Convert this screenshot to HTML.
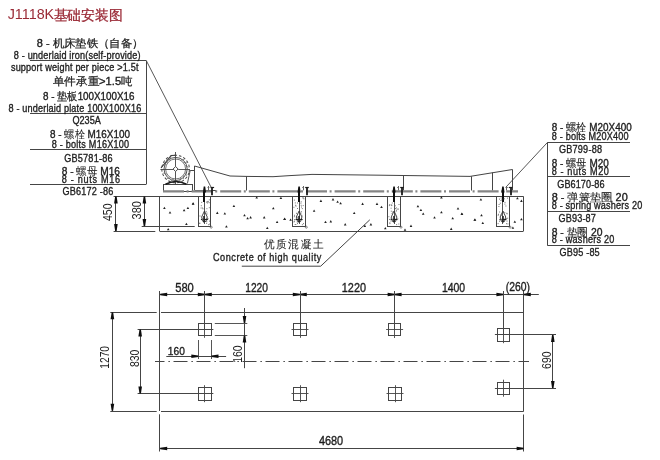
<!DOCTYPE html>
<html><head><meta charset="utf-8"><style>
html,body{margin:0;padding:0;background:#fff;width:660px;height:460px;overflow:hidden}
svg{display:block;font-family:"Liberation Sans",sans-serif}
</style></head><body>
<svg width="660" height="460" viewBox="0 0 660 460">
<defs><filter id="soft" x="0" y="0" width="660" height="460" filterUnits="userSpaceOnUse"><feGaussianBlur stdDeviation="0.32"/></filter></defs>
<rect width="660" height="460" fill="#fff"/>
<g filter="url(#soft)">
<rect width="660" height="460" fill="#fff"/>
<text x="7.7" y="18.8" font-size="14.1" fill="#9a2a36" textLength="46.5" lengthAdjust="spacingAndGlyphs">J1118K</text>
<text x="53.5" y="19.8" font-size="14.2" fill="#9a2a36" stroke="#9a2a36" stroke-width="0.3" textLength="69" lengthAdjust="spacingAndGlyphs">基础安装图</text>
<line x1="30" y1="60.5" x2="146.4" y2="60.5" stroke="#444" stroke-width="1" stroke-linecap="butt"/>
<line x1="30" y1="113.5" x2="146.4" y2="113.5" stroke="#444" stroke-width="1" stroke-linecap="butt"/>
<line x1="30" y1="149.5" x2="146.4" y2="149.5" stroke="#444" stroke-width="1" stroke-linecap="butt"/>
<line x1="30" y1="184.5" x2="146.4" y2="184.5" stroke="#444" stroke-width="1" stroke-linecap="butt"/>
<line x1="146.5" y1="60.8" x2="146.5" y2="184.1" stroke="#444" stroke-width="1" stroke-linecap="butt"/>
<line x1="146.4" y1="60.8" x2="211" y2="187" stroke="#444" stroke-width="0.9" stroke-linecap="butt"/>
<text x="36.8" y="47.3" font-size="10.6" fill="#1e1e1e" stroke="#1e1e1e" stroke-width="0.35" textLength="106.7" lengthAdjust="spacingAndGlyphs"><tspan>8 - </tspan><tspan font-size="11.2" stroke="#1e1e1e" stroke-width="0.25">机床垫铁（自备）</tspan></text>
<text x="0" y="0" font-size="10.6" fill="#1e1e1e" stroke="#1e1e1e" stroke-width="0.35" textLength="147.4" lengthAdjust="spacing" transform="translate(13.8 59.3) scale(0.86 1)"><tspan>8 - underlaid iron(self-provide)</tspan></text>
<text x="0" y="0" font-size="10.6" fill="#1e1e1e" stroke="#1e1e1e" stroke-width="0.35" textLength="148.3" lengthAdjust="spacing" transform="translate(10.9 71.4) scale(0.86 1)"><tspan>support weight per piece &gt;1.5t</tspan></text>
<text x="52.8" y="85.0" font-size="10.6" fill="#1e1e1e" stroke="#1e1e1e" stroke-width="0.35" textLength="79.9" lengthAdjust="spacingAndGlyphs"><tspan font-size="11.2" stroke="#1e1e1e" stroke-width="0.25">单件承重</tspan><tspan>&gt;1.5</tspan><tspan font-size="11.2" stroke="#1e1e1e" stroke-width="0.25">吨</tspan></text>
<text x="43" y="100.2" font-size="10.6" fill="#1e1e1e" stroke="#1e1e1e" stroke-width="0.35" textLength="91.5" lengthAdjust="spacingAndGlyphs"><tspan>8 - </tspan><tspan font-size="11.2" stroke="#1e1e1e" stroke-width="0.25">垫板</tspan><tspan>100X100X16</tspan></text>
<text x="0" y="0" font-size="10.6" fill="#1e1e1e" stroke="#1e1e1e" stroke-width="0.35" textLength="154.4" lengthAdjust="spacing" transform="translate(8.5 112.0) scale(0.86 1)"><tspan>8 - underlaid plate 100X100X16</tspan></text>
<text x="0" y="0" font-size="10.6" fill="#1e1e1e" stroke="#1e1e1e" stroke-width="0.35" textLength="32.9" lengthAdjust="spacing" transform="translate(72.5 124.2) scale(0.86 1)"><tspan>Q235A</tspan></text>
<text x="50" y="137.9" font-size="10.6" fill="#1e1e1e" stroke="#1e1e1e" stroke-width="0.35" textLength="80.0" lengthAdjust="spacingAndGlyphs"><tspan>8 - </tspan><tspan font-size="11.2" stroke="#1e1e1e" stroke-width="0.05">螺栓</tspan><tspan> M16X100</tspan></text>
<text x="0" y="0" font-size="10.6" fill="#1e1e1e" stroke="#1e1e1e" stroke-width="0.35" textLength="90.1" lengthAdjust="spacing" transform="translate(51.7 147.5) scale(0.86 1)"><tspan>8 - bolts M16X100</tspan></text>
<text x="0" y="0" font-size="10.6" fill="#1e1e1e" stroke="#1e1e1e" stroke-width="0.35" textLength="56.2" lengthAdjust="spacing" transform="translate(64.2 161.6) scale(0.86 1)"><tspan>GB5781-86</tspan></text>
<text x="61.7" y="174.6" font-size="10.6" fill="#1e1e1e" stroke="#1e1e1e" stroke-width="0.35" textLength="58.3" lengthAdjust="spacingAndGlyphs"><tspan>8 - </tspan><tspan font-size="11.2" stroke="#1e1e1e" stroke-width="0.05">螺母</tspan><tspan> M16</tspan></text>
<text x="0" y="0" font-size="10.6" fill="#1e1e1e" stroke="#1e1e1e" stroke-width="0.35" textLength="67.8" lengthAdjust="spacing" transform="translate(61.7 182.5) scale(0.86 1)"><tspan>8 - nuts M16</tspan></text>
<text x="0" y="0" font-size="10.6" fill="#1e1e1e" stroke="#1e1e1e" stroke-width="0.35" textLength="59.1" lengthAdjust="spacing" transform="translate(62.5 195.0) scale(0.86 1)"><tspan>GB6172 -86</tspan></text>
<line x1="547.2" y1="142.5" x2="630" y2="142.5" stroke="#444" stroke-width="1" stroke-linecap="butt"/>
<line x1="547.2" y1="176.5" x2="630" y2="176.5" stroke="#444" stroke-width="1" stroke-linecap="butt"/>
<line x1="547.2" y1="211.5" x2="630" y2="211.5" stroke="#444" stroke-width="1" stroke-linecap="butt"/>
<line x1="547.2" y1="245.5" x2="630" y2="245.5" stroke="#444" stroke-width="1" stroke-linecap="butt"/>
<line x1="547.5" y1="142.6" x2="547.5" y2="245" stroke="#444" stroke-width="1" stroke-linecap="butt"/>
<line x1="547.3" y1="142.6" x2="505.6" y2="187.5" stroke="#444" stroke-width="0.9" stroke-linecap="butt"/>
<text x="551.8" y="130.8" font-size="10.6" fill="#1e1e1e" stroke="#1e1e1e" stroke-width="0.35" textLength="79.9" lengthAdjust="spacingAndGlyphs"><tspan>8 - </tspan><tspan font-size="11.2" stroke="#1e1e1e" stroke-width="0.1">螺栓</tspan><tspan> M20X400</tspan></text>
<text x="0" y="0" font-size="10.6" fill="#1e1e1e" stroke="#1e1e1e" stroke-width="0.35" textLength="89.3" lengthAdjust="spacing" transform="translate(551.8 140.0) scale(0.86 1)"><tspan>8 - bolts M20X400</tspan></text>
<text x="0" y="0" font-size="10.6" fill="#1e1e1e" stroke="#1e1e1e" stroke-width="0.35" textLength="50.2" lengthAdjust="spacing" transform="translate(558.9 152.8) scale(0.86 1)"><tspan>GB799-88</tspan></text>
<text x="551.8" y="167.2" font-size="10.6" fill="#1e1e1e" stroke="#1e1e1e" stroke-width="0.35" textLength="57.1" lengthAdjust="spacingAndGlyphs"><tspan>8 - </tspan><tspan font-size="11.2" stroke="#1e1e1e" stroke-width="0.1">螺母</tspan><tspan> M20</tspan></text>
<text x="0" y="0" font-size="10.6" fill="#1e1e1e" stroke="#1e1e1e" stroke-width="0.35" textLength="66.4" lengthAdjust="spacing" transform="translate(551.8 174.8) scale(0.86 1)"><tspan>8 - nuts M20</tspan></text>
<text x="0" y="0" font-size="10.6" fill="#1e1e1e" stroke="#1e1e1e" stroke-width="0.35" textLength="55.1" lengthAdjust="spacing" transform="translate(557.2 187.5) scale(0.86 1)"><tspan>GB6170-86</tspan></text>
<text x="551.7" y="201.2" font-size="10.6" fill="#1e1e1e" stroke="#1e1e1e" stroke-width="0.35" textLength="76.0" lengthAdjust="spacingAndGlyphs"><tspan>8 - </tspan><tspan font-size="11.2" stroke="#1e1e1e" stroke-width="0.1">弹簧垫圈</tspan><tspan> 20</tspan></text>
<text x="0" y="0" font-size="10.6" fill="#1e1e1e" stroke="#1e1e1e" stroke-width="0.35" textLength="105.3" lengthAdjust="spacing" transform="translate(551.7 209.1) scale(0.86 1)"><tspan>8 - spring washers 20</tspan></text>
<text x="0" y="0" font-size="10.6" fill="#1e1e1e" stroke="#1e1e1e" stroke-width="0.35" textLength="43.3" lengthAdjust="spacing" transform="translate(558.6 221.8) scale(0.86 1)"><tspan>GB93-87</tspan></text>
<text x="551.7" y="235.5" font-size="10.6" fill="#1e1e1e" stroke="#1e1e1e" stroke-width="0.35" textLength="50.9" lengthAdjust="spacingAndGlyphs"><tspan>8 - </tspan><tspan font-size="11.2" stroke="#1e1e1e" stroke-width="0.1">垫圈</tspan><tspan> 20</tspan></text>
<text x="0" y="0" font-size="10.6" fill="#1e1e1e" stroke="#1e1e1e" stroke-width="0.35" textLength="72.9" lengthAdjust="spacing" transform="translate(551.7 243.4) scale(0.86 1)"><tspan>8 - washers 20</tspan></text>
<text x="0" y="0" font-size="10.6" fill="#1e1e1e" stroke="#1e1e1e" stroke-width="0.35" textLength="46.6" lengthAdjust="spacing" transform="translate(559.6 256.0) scale(0.86 1)"><tspan>GB95 -85</tspan></text>
<path d="M161,168 L171.2,155.5 L176,155.2" fill="none" stroke="#333" stroke-width="1.1"/>
<circle cx="175.6" cy="169.0" r="13.8" fill="none" stroke="#444" stroke-width="1" stroke-dasharray="2.6 2" transform="rotate(15 175.6 169.0)"/>
<circle cx="175.6" cy="169.0" r="11.6" fill="none" stroke="#444" stroke-width="0.9"/>
<circle cx="175.6" cy="169.0" r="10.0" fill="none" stroke="#555" stroke-width="0.8"/>
<line x1="165.92" y1="165.48" x2="164.58" y2="162.11" stroke="#666" stroke-width="0.7"/>
<line x1="167.16" y1="163.09" x2="166.73" y2="159.49" stroke="#666" stroke-width="0.7"/>
<line x1="169.69" y1="160.56" x2="170.52" y2="157.03" stroke="#666" stroke-width="0.7"/>
<line x1="180.75" y1="160.08" x2="184.30" y2="159.34" stroke="#666" stroke-width="0.7"/>
<line x1="183.49" y1="162.38" x2="187.08" y2="162.90" stroke="#666" stroke-width="0.7"/>
<line x1="185.28" y1="165.48" x2="188.47" y2="167.19" stroke="#666" stroke-width="0.7"/>
<line x1="185.28" y1="172.52" x2="186.62" y2="175.89" stroke="#666" stroke-width="0.7"/>
<line x1="183.49" y1="175.62" x2="183.60" y2="179.24" stroke="#666" stroke-width="0.7"/>
<line x1="180.75" y1="177.92" x2="179.62" y2="181.36" stroke="#666" stroke-width="0.7"/>
<line x1="173.81" y1="179.14" x2="170.73" y2="181.05" stroke="#666" stroke-width="0.7"/>
<line x1="170.45" y1="177.92" x2="166.90" y2="178.66" stroke="#666" stroke-width="0.7"/>
<line x1="166.68" y1="174.15" x2="163.24" y2="173.02" stroke="#666" stroke-width="0.7"/>
<polygon points="175.60,166.50 178.10,169.00 175.60,171.50 173.10,169.00" fill="#fff" stroke="#333" stroke-width="0.9"/>
<line x1="175.5" y1="152" x2="175.5" y2="166.5" stroke="#444" stroke-width="0.9" stroke-linecap="butt"/>
<line x1="175.5" y1="171.5" x2="175.5" y2="184" stroke="#444" stroke-width="0.9" stroke-linecap="butt"/>
<line x1="160.4" y1="169.5" x2="173" y2="169.5" stroke="#444" stroke-width="0.9" stroke-linecap="butt"/>
<line x1="178.2" y1="169.5" x2="189.8" y2="169.5" stroke="#444" stroke-width="0.9" stroke-linecap="butt"/>
<rect x="163.5" y="184.5" width="29.00" height="7.00" stroke="#444" stroke-width="1" fill="none"/>
<path d="M165.5,184.3 Q176,178.8 186.5,184.3" fill="none" stroke="#1a1a1a" stroke-width="1.6"/>
<line x1="190.3" y1="170.5" x2="195" y2="170.5" stroke="#444" stroke-width="1" stroke-linecap="butt"/>
<line x1="190.3" y1="170" x2="187.4" y2="183.5" stroke="#444" stroke-width="0.9" stroke-linecap="butt"/>
<polyline points="194.5,190.5 194.5,166 230,176 246,176.4 273,176.7 290,175.6 312,174.4 380,175.2 470,176.4 512.5,169.5 512.5,190.5" stroke="#444" stroke-width="1" fill="none"/>
<line x1="246.5" y1="176.4" x2="246.5" y2="190.5" stroke="#444" stroke-width="1" stroke-linecap="butt"/>
<line x1="403.5" y1="175.2" x2="403.5" y2="190.5" stroke="#444" stroke-width="1" stroke-linecap="butt"/>
<line x1="471.5" y1="176.3" x2="471.5" y2="190.5" stroke="#444" stroke-width="1" stroke-linecap="butt"/>
<line x1="492.5" y1="172.6" x2="492.5" y2="190.5" stroke="#444" stroke-width="1" stroke-linecap="butt"/>
<line x1="195" y1="190.5" x2="216" y2="190.5" stroke="#444" stroke-width="1" stroke-linecap="butt"/>
<line x1="163" y1="191.3" x2="518" y2="191.3" stroke="#858585" stroke-width="2.2" stroke-dasharray="21 2.6 2 3" stroke-dashoffset="0"/>
<line x1="113.6" y1="196.5" x2="523.3" y2="196.5" stroke="#444" stroke-width="1" stroke-linecap="butt"/>
<line x1="113.6" y1="231.5" x2="155.3" y2="231.5" stroke="#444" stroke-width="1" stroke-linecap="butt"/>
<line x1="159.8" y1="231.5" x2="523.3" y2="231.5" stroke="#444" stroke-width="1" stroke-linecap="butt"/>
<line x1="159.5" y1="196.3" x2="159.5" y2="231.3" stroke="#444" stroke-width="1" stroke-linecap="butt"/>
<line x1="523.5" y1="196.3" x2="523.5" y2="231.3" stroke="#444" stroke-width="1" stroke-linecap="butt"/>
<line x1="141.7" y1="226.5" x2="194.7" y2="226.5" stroke="#444" stroke-width="1" stroke-linecap="butt"/>
<rect x="198.5" y="196.5" width="12.00" height="30.00" stroke="#444" stroke-width="1" fill="none"/>
<line x1="204" y1="192" x2="204" y2="202" stroke="#111" stroke-width="2.0" stroke-linecap="butt"/>
<polygon points="205.20,186.50 206.05,192.50 202.85,192.50 203.70,186.50" fill="#111" stroke="none" stroke-width="0"/>
<line x1="204.5" y1="202" x2="204.5" y2="224" stroke="#555" stroke-width="1.0" stroke-linecap="butt"/>
<line x1="212" y1="187.5" x2="212" y2="195.2" stroke="#1a1a1a" stroke-width="1.8" stroke-linecap="butt"/>
<line x1="210.5" y1="187.5" x2="214.10000000000002" y2="187.5" stroke="#1a1a1a" stroke-width="1.2" stroke-linecap="butt"/>
<line x1="208.5" y1="186" x2="208.5" y2="190.3" stroke="#555" stroke-width="0.9" stroke-linecap="butt"/>
<line x1="207.45" y1="187.5" x2="209.45" y2="187.5" stroke="#666" stroke-width="0.8" stroke-linecap="butt"/>
<polygon points="204.45,211.00 207.25,217.00 205.95,221.50 202.95,221.50 201.65,217.00" fill="none" stroke="#333" stroke-width="0.9"/>
<line x1="200.95" y1="219.5" x2="207.95" y2="219.5" stroke="#222" stroke-width="1.2" stroke-linecap="butt"/>
<line x1="204" y1="216" x2="204" y2="222.5" stroke="#222" stroke-width="1.6" stroke-linecap="butt"/>
<rect x="206.0" y="201.6" width="1" height="1" fill="#7a7a7a"/>
<rect x="208.8" y="199.3" width="1" height="1" fill="#7a7a7a"/>
<rect x="199.5" y="215.5" width="1" height="1" fill="#7a7a7a"/>
<rect x="209.0" y="220.6" width="1" height="1" fill="#7a7a7a"/>
<rect x="207.3" y="201.4" width="1" height="1" fill="#7a7a7a"/>
<rect x="200.8" y="205.2" width="1" height="1" fill="#7a7a7a"/>
<rect x="201.2" y="201.9" width="1" height="1" fill="#7a7a7a"/>
<rect x="201.9" y="207.5" width="1" height="1" fill="#7a7a7a"/>
<rect x="202.1" y="219.1" width="1" height="1" fill="#7a7a7a"/>
<rect x="207.4" y="200.9" width="1" height="1" fill="#7a7a7a"/>
<rect x="199.1" y="222.8" width="1" height="1" fill="#7a7a7a"/>
<rect x="208.7" y="202.2" width="1" height="1" fill="#7a7a7a"/>
<rect x="207.5" y="218.3" width="1" height="1" fill="#7a7a7a"/>
<rect x="207.6" y="201.3" width="1" height="1" fill="#7a7a7a"/>
<rect x="205.7" y="210.9" width="1" height="1" fill="#7a7a7a"/>
<rect x="209.1" y="223.6" width="1" height="1" fill="#7a7a7a"/>
<rect x="202.5" y="208.3" width="1" height="1" fill="#7a7a7a"/>
<rect x="206.2" y="221.1" width="1" height="1" fill="#7a7a7a"/>
<rect x="206.9" y="202.5" width="1" height="1" fill="#7a7a7a"/>
<rect x="199.4" y="222.8" width="1" height="1" fill="#7a7a7a"/>
<rect x="206.1" y="222.8" width="1" height="1" fill="#7a7a7a"/>
<rect x="206.3" y="213.9" width="1" height="1" fill="#7a7a7a"/>
<rect x="206.4" y="212.6" width="1" height="1" fill="#7a7a7a"/>
<rect x="208.8" y="207.2" width="1" height="1" fill="#7a7a7a"/>
<rect x="208.1" y="224.2" width="1" height="1" fill="#7a7a7a"/>
<rect x="206.4" y="208.2" width="1" height="1" fill="#7a7a7a"/>
<rect x="207.1" y="218.0" width="1" height="1" fill="#7a7a7a"/>
<rect x="200.6" y="207.5" width="1" height="1" fill="#7a7a7a"/>
<circle cx="211.2" cy="227.2" r="1.0" fill="none" stroke="#555" stroke-width="0.7"/>
<rect x="292.5" y="196.5" width="13.00" height="30.00" stroke="#444" stroke-width="1" fill="none"/>
<line x1="299" y1="192" x2="299" y2="202" stroke="#111" stroke-width="2.0" stroke-linecap="butt"/>
<polygon points="299.85,186.50 300.70,192.50 297.50,192.50 298.35,186.50" fill="#111" stroke="none" stroke-width="0"/>
<line x1="299.5" y1="202" x2="299.5" y2="224" stroke="#555" stroke-width="1.0" stroke-linecap="butt"/>
<line x1="307" y1="187.5" x2="307" y2="195.2" stroke="#1a1a1a" stroke-width="1.8" stroke-linecap="butt"/>
<line x1="305.2" y1="187.5" x2="308.8" y2="187.5" stroke="#1a1a1a" stroke-width="1.2" stroke-linecap="butt"/>
<line x1="303.5" y1="186" x2="303.5" y2="190.3" stroke="#555" stroke-width="0.9" stroke-linecap="butt"/>
<line x1="302.1" y1="187.5" x2="304.1" y2="187.5" stroke="#666" stroke-width="0.8" stroke-linecap="butt"/>
<polygon points="299.10,211.00 301.90,217.00 300.60,221.50 297.60,221.50 296.30,217.00" fill="none" stroke="#333" stroke-width="0.9"/>
<line x1="295.6" y1="219.5" x2="302.6" y2="219.5" stroke="#222" stroke-width="1.2" stroke-linecap="butt"/>
<line x1="299" y1="216" x2="299" y2="222.5" stroke="#222" stroke-width="1.6" stroke-linecap="butt"/>
<rect x="297.2" y="216.7" width="1" height="1" fill="#7a7a7a"/>
<rect x="293.5" y="221.4" width="1" height="1" fill="#7a7a7a"/>
<rect x="301.5" y="215.7" width="1" height="1" fill="#7a7a7a"/>
<rect x="293.9" y="199.6" width="1" height="1" fill="#7a7a7a"/>
<rect x="301.0" y="206.5" width="1" height="1" fill="#7a7a7a"/>
<rect x="297.0" y="208.0" width="1" height="1" fill="#7a7a7a"/>
<rect x="296.7" y="221.5" width="1" height="1" fill="#7a7a7a"/>
<rect x="303.0" y="223.1" width="1" height="1" fill="#7a7a7a"/>
<rect x="301.8" y="208.1" width="1" height="1" fill="#7a7a7a"/>
<rect x="300.4" y="202.7" width="1" height="1" fill="#7a7a7a"/>
<rect x="294.7" y="224.0" width="1" height="1" fill="#7a7a7a"/>
<rect x="293.9" y="216.2" width="1" height="1" fill="#7a7a7a"/>
<rect x="294.8" y="202.4" width="1" height="1" fill="#7a7a7a"/>
<rect x="294.1" y="219.1" width="1" height="1" fill="#7a7a7a"/>
<rect x="296.1" y="217.8" width="1" height="1" fill="#7a7a7a"/>
<rect x="296.0" y="212.8" width="1" height="1" fill="#7a7a7a"/>
<rect x="294.0" y="220.7" width="1" height="1" fill="#7a7a7a"/>
<rect x="295.1" y="204.8" width="1" height="1" fill="#7a7a7a"/>
<rect x="300.8" y="211.1" width="1" height="1" fill="#7a7a7a"/>
<rect x="297.0" y="223.1" width="1" height="1" fill="#7a7a7a"/>
<rect x="302.4" y="197.3" width="1" height="1" fill="#7a7a7a"/>
<rect x="303.4" y="198.3" width="1" height="1" fill="#7a7a7a"/>
<rect x="293.4" y="206.8" width="1" height="1" fill="#7a7a7a"/>
<rect x="294.0" y="214.8" width="1" height="1" fill="#7a7a7a"/>
<rect x="302.7" y="197.6" width="1" height="1" fill="#7a7a7a"/>
<rect x="301.9" y="224.2" width="1" height="1" fill="#7a7a7a"/>
<rect x="295.3" y="224.0" width="1" height="1" fill="#7a7a7a"/>
<rect x="300.7" y="201.3" width="1" height="1" fill="#7a7a7a"/>
<rect x="295.5" y="205.6" width="1" height="1" fill="#7a7a7a"/>
<rect x="300.6" y="212.5" width="1" height="1" fill="#7a7a7a"/>
<rect x="301.2" y="214.9" width="1" height="1" fill="#7a7a7a"/>
<rect x="300.7" y="204.8" width="1" height="1" fill="#7a7a7a"/>
<rect x="297.0" y="202.5" width="1" height="1" fill="#7a7a7a"/>
<rect x="302.7" y="205.1" width="1" height="1" fill="#7a7a7a"/>
<circle cx="306.3" cy="227.2" r="1.0" fill="none" stroke="#555" stroke-width="0.7"/>
<rect x="387.5" y="196.5" width="13.00" height="30.00" stroke="#444" stroke-width="1" fill="none"/>
<line x1="394" y1="192" x2="394" y2="202" stroke="#111" stroke-width="2.0" stroke-linecap="butt"/>
<polygon points="394.80,186.50 395.65,192.50 392.45,192.50 393.30,186.50" fill="#111" stroke="none" stroke-width="0"/>
<line x1="394.5" y1="202" x2="394.5" y2="224" stroke="#555" stroke-width="1.0" stroke-linecap="butt"/>
<line x1="402" y1="187.5" x2="402" y2="195.2" stroke="#1a1a1a" stroke-width="1.8" stroke-linecap="butt"/>
<line x1="400.2" y1="187.5" x2="403.8" y2="187.5" stroke="#1a1a1a" stroke-width="1.2" stroke-linecap="butt"/>
<line x1="398.5" y1="186" x2="398.5" y2="190.3" stroke="#555" stroke-width="0.9" stroke-linecap="butt"/>
<line x1="397.05" y1="187.5" x2="399.05" y2="187.5" stroke="#666" stroke-width="0.8" stroke-linecap="butt"/>
<polygon points="394.05,211.00 396.85,217.00 395.55,221.50 392.55,221.50 391.25,217.00" fill="none" stroke="#333" stroke-width="0.9"/>
<line x1="390.55" y1="219.5" x2="397.55" y2="219.5" stroke="#222" stroke-width="1.2" stroke-linecap="butt"/>
<line x1="394" y1="216" x2="394" y2="222.5" stroke="#222" stroke-width="1.6" stroke-linecap="butt"/>
<rect x="398.5" y="204.0" width="1" height="1" fill="#7a7a7a"/>
<rect x="395.7" y="210.7" width="1" height="1" fill="#7a7a7a"/>
<rect x="391.8" y="202.5" width="1" height="1" fill="#7a7a7a"/>
<rect x="395.0" y="208.1" width="1" height="1" fill="#7a7a7a"/>
<rect x="390.5" y="220.6" width="1" height="1" fill="#7a7a7a"/>
<rect x="397.3" y="218.3" width="1" height="1" fill="#7a7a7a"/>
<rect x="395.9" y="207.4" width="1" height="1" fill="#7a7a7a"/>
<rect x="389.4" y="223.1" width="1" height="1" fill="#7a7a7a"/>
<rect x="397.5" y="208.4" width="1" height="1" fill="#7a7a7a"/>
<rect x="391.6" y="213.0" width="1" height="1" fill="#7a7a7a"/>
<rect x="389.1" y="204.2" width="1" height="1" fill="#7a7a7a"/>
<rect x="392.0" y="219.2" width="1" height="1" fill="#7a7a7a"/>
<rect x="391.2" y="205.1" width="1" height="1" fill="#7a7a7a"/>
<rect x="391.2" y="216.5" width="1" height="1" fill="#7a7a7a"/>
<rect x="389.3" y="222.3" width="1" height="1" fill="#7a7a7a"/>
<rect x="388.9" y="205.1" width="1" height="1" fill="#7a7a7a"/>
<rect x="394.8" y="205.3" width="1" height="1" fill="#7a7a7a"/>
<rect x="390.6" y="207.7" width="1" height="1" fill="#7a7a7a"/>
<rect x="392.1" y="211.6" width="1" height="1" fill="#7a7a7a"/>
<rect x="390.8" y="210.7" width="1" height="1" fill="#7a7a7a"/>
<rect x="398.3" y="223.5" width="1" height="1" fill="#7a7a7a"/>
<rect x="397.5" y="208.8" width="1" height="1" fill="#7a7a7a"/>
<rect x="390.6" y="204.4" width="1" height="1" fill="#7a7a7a"/>
<rect x="396.0" y="209.7" width="1" height="1" fill="#7a7a7a"/>
<rect x="396.1" y="224.1" width="1" height="1" fill="#7a7a7a"/>
<rect x="390.6" y="217.6" width="1" height="1" fill="#7a7a7a"/>
<rect x="394.8" y="215.3" width="1" height="1" fill="#7a7a7a"/>
<rect x="388.4" y="216.2" width="1" height="1" fill="#7a7a7a"/>
<rect x="389.0" y="218.9" width="1" height="1" fill="#7a7a7a"/>
<rect x="396.1" y="217.5" width="1" height="1" fill="#7a7a7a"/>
<rect x="391.2" y="204.6" width="1" height="1" fill="#7a7a7a"/>
<circle cx="401.0" cy="227.2" r="1.0" fill="none" stroke="#555" stroke-width="0.7"/>
<rect x="496.5" y="196.5" width="13.00" height="30.00" stroke="#444" stroke-width="1" fill="none"/>
<line x1="503" y1="192" x2="503" y2="202" stroke="#111" stroke-width="2.0" stroke-linecap="butt"/>
<polygon points="503.70,186.50 504.55,192.50 501.35,192.50 502.20,186.50" fill="#111" stroke="none" stroke-width="0"/>
<line x1="502.5" y1="202" x2="502.5" y2="224" stroke="#555" stroke-width="1.0" stroke-linecap="butt"/>
<line x1="511" y1="187.5" x2="511" y2="195.2" stroke="#1a1a1a" stroke-width="1.8" stroke-linecap="butt"/>
<line x1="508.8" y1="187.5" x2="512.4" y2="187.5" stroke="#1a1a1a" stroke-width="1.2" stroke-linecap="butt"/>
<line x1="506.5" y1="186" x2="506.5" y2="190.3" stroke="#555" stroke-width="0.9" stroke-linecap="butt"/>
<line x1="505.95000000000005" y1="187.5" x2="507.95000000000005" y2="187.5" stroke="#666" stroke-width="0.8" stroke-linecap="butt"/>
<polygon points="502.95,211.00 505.75,217.00 504.45,221.50 501.45,221.50 500.15,217.00" fill="none" stroke="#333" stroke-width="0.9"/>
<line x1="499.45000000000005" y1="219.5" x2="506.45000000000005" y2="219.5" stroke="#222" stroke-width="1.2" stroke-linecap="butt"/>
<line x1="503" y1="216" x2="503" y2="222.5" stroke="#222" stroke-width="1.6" stroke-linecap="butt"/>
<rect x="500.9" y="219.1" width="1" height="1" fill="#7a7a7a"/>
<rect x="504.5" y="201.9" width="1" height="1" fill="#7a7a7a"/>
<rect x="506.5" y="220.6" width="1" height="1" fill="#7a7a7a"/>
<rect x="497.7" y="214.7" width="1" height="1" fill="#7a7a7a"/>
<rect x="501.2" y="199.4" width="1" height="1" fill="#7a7a7a"/>
<rect x="500.6" y="214.7" width="1" height="1" fill="#7a7a7a"/>
<rect x="498.4" y="206.0" width="1" height="1" fill="#7a7a7a"/>
<rect x="504.4" y="203.6" width="1" height="1" fill="#7a7a7a"/>
<rect x="506.3" y="212.8" width="1" height="1" fill="#7a7a7a"/>
<rect x="503.8" y="198.3" width="1" height="1" fill="#7a7a7a"/>
<rect x="498.0" y="213.8" width="1" height="1" fill="#7a7a7a"/>
<rect x="499.1" y="211.5" width="1" height="1" fill="#7a7a7a"/>
<rect x="506.6" y="213.3" width="1" height="1" fill="#7a7a7a"/>
<rect x="498.6" y="204.0" width="1" height="1" fill="#7a7a7a"/>
<rect x="507.2" y="217.7" width="1" height="1" fill="#7a7a7a"/>
<rect x="499.0" y="198.6" width="1" height="1" fill="#7a7a7a"/>
<rect x="507.4" y="223.4" width="1" height="1" fill="#7a7a7a"/>
<rect x="499.9" y="218.5" width="1" height="1" fill="#7a7a7a"/>
<rect x="507.0" y="197.6" width="1" height="1" fill="#7a7a7a"/>
<rect x="500.4" y="200.0" width="1" height="1" fill="#7a7a7a"/>
<rect x="499.0" y="220.7" width="1" height="1" fill="#7a7a7a"/>
<rect x="497.6" y="223.1" width="1" height="1" fill="#7a7a7a"/>
<rect x="501.0" y="213.7" width="1" height="1" fill="#7a7a7a"/>
<rect x="499.8" y="202.7" width="1" height="1" fill="#7a7a7a"/>
<rect x="500.7" y="197.5" width="1" height="1" fill="#7a7a7a"/>
<rect x="504.3" y="212.1" width="1" height="1" fill="#7a7a7a"/>
<rect x="506.0" y="223.2" width="1" height="1" fill="#7a7a7a"/>
<rect x="500.6" y="214.4" width="1" height="1" fill="#7a7a7a"/>
<rect x="505.4" y="205.5" width="1" height="1" fill="#7a7a7a"/>
<rect x="506.2" y="218.0" width="1" height="1" fill="#7a7a7a"/>
<rect x="501.2" y="214.6" width="1" height="1" fill="#7a7a7a"/>
<circle cx="510.1" cy="227.2" r="1.0" fill="none" stroke="#555" stroke-width="0.7"/>
<polygon points="163.10,209.00 165.70,209.00 164.40,206.70" fill="#222" stroke="none" stroke-width="0"/>
<polygon points="168.70,213.60 171.30,213.60 170.00,211.30" fill="#222" stroke="none" stroke-width="0"/>
<polygon points="182.80,211.30 185.40,211.30 184.10,209.00" fill="#222" stroke="none" stroke-width="0"/>
<polygon points="186.60,209.00 189.20,209.00 187.90,206.70" fill="#222" stroke="none" stroke-width="0"/>
<polygon points="191.90,204.50 194.50,204.50 193.20,202.20" fill="#222" stroke="none" stroke-width="0"/>
<polygon points="185.10,225.00 187.70,225.00 186.40,222.70" fill="#222" stroke="none" stroke-width="0"/>
<polygon points="166.90,230.20 169.50,230.20 168.20,227.90" fill="#222" stroke="none" stroke-width="0"/>
<polygon points="191.70,204.80 194.30,204.80 193.00,202.50" fill="#222" stroke="none" stroke-width="0"/>
<polygon points="232.60,207.10 235.20,207.10 233.90,204.80" fill="#222" stroke="none" stroke-width="0"/>
<polygon points="216.00,213.90 218.60,213.90 217.30,211.60" fill="#222" stroke="none" stroke-width="0"/>
<polygon points="223.50,214.60 226.10,214.60 224.80,212.30" fill="#222" stroke="none" stroke-width="0"/>
<polygon points="225.10,227.50 227.70,227.50 226.40,225.20" fill="#222" stroke="none" stroke-width="0"/>
<polygon points="243.20,216.20 245.80,216.20 244.50,213.90" fill="#222" stroke="none" stroke-width="0"/>
<polygon points="246.30,219.20 248.90,219.20 247.60,216.90" fill="#222" stroke="none" stroke-width="0"/>
<polygon points="249.30,218.40 251.90,218.40 250.60,216.10" fill="#222" stroke="none" stroke-width="0"/>
<polygon points="262.90,218.40 265.50,218.40 264.20,216.10" fill="#222" stroke="none" stroke-width="0"/>
<polygon points="272.00,209.30 274.60,209.30 273.30,207.00" fill="#222" stroke="none" stroke-width="0"/>
<polygon points="275.80,223.00 278.40,223.00 277.10,220.70" fill="#222" stroke="none" stroke-width="0"/>
<polygon points="283.40,219.90 286.00,219.90 284.70,217.60" fill="#222" stroke="none" stroke-width="0"/>
<polygon points="255.40,198.50 258.00,198.50 256.70,196.20" fill="#222" stroke="none" stroke-width="0"/>
<polygon points="279.60,199.00 282.20,199.00 280.90,196.70" fill="#222" stroke="none" stroke-width="0"/>
<polygon points="266.00,229.00 268.60,229.00 267.30,226.70" fill="#222" stroke="none" stroke-width="0"/>
<polygon points="319.60,201.90 322.20,201.90 320.90,199.60" fill="#222" stroke="none" stroke-width="0"/>
<polygon points="331.70,200.40 334.30,200.40 333.00,198.10" fill="#222" stroke="none" stroke-width="0"/>
<polygon points="336.30,202.70 338.90,202.70 337.60,200.40" fill="#222" stroke="none" stroke-width="0"/>
<polygon points="339.30,204.20 341.90,204.20 340.60,201.90" fill="#222" stroke="none" stroke-width="0"/>
<polygon points="361.30,204.90 363.90,204.90 362.60,202.60" fill="#222" stroke="none" stroke-width="0"/>
<polygon points="375.70,204.90 378.30,204.90 377.00,202.60" fill="#222" stroke="none" stroke-width="0"/>
<polygon points="312.80,211.80 315.40,211.80 314.10,209.50" fill="#222" stroke="none" stroke-width="0"/>
<polygon points="352.90,214.00 355.50,214.00 354.20,211.70" fill="#222" stroke="none" stroke-width="0"/>
<polygon points="283.20,220.10 285.80,220.10 284.50,217.80" fill="#222" stroke="none" stroke-width="0"/>
<polygon points="289.30,220.80 291.90,220.80 290.60,218.50" fill="#222" stroke="none" stroke-width="0"/>
<polygon points="324.20,223.10 326.80,223.10 325.50,220.80" fill="#222" stroke="none" stroke-width="0"/>
<polygon points="329.50,222.40 332.10,222.40 330.80,220.10" fill="#222" stroke="none" stroke-width="0"/>
<polygon points="343.90,225.40 346.50,225.40 345.20,223.10" fill="#222" stroke="none" stroke-width="0"/>
<polygon points="369.60,225.40 372.20,225.40 370.90,223.10" fill="#222" stroke="none" stroke-width="0"/>
<polygon points="363.50,226.90 366.10,226.90 364.80,224.60" fill="#222" stroke="none" stroke-width="0"/>
<polygon points="380.20,208.00 382.80,208.00 381.50,205.70" fill="#222" stroke="none" stroke-width="0"/>
<polygon points="416.60,207.20 419.20,207.20 417.90,204.90" fill="#222" stroke="none" stroke-width="0"/>
<polygon points="419.60,211.00 422.20,211.00 420.90,208.70" fill="#222" stroke="none" stroke-width="0"/>
<polygon points="421.90,214.80 424.50,214.80 423.20,212.50" fill="#222" stroke="none" stroke-width="0"/>
<polygon points="440.10,213.30 442.70,213.30 441.40,211.00" fill="#222" stroke="none" stroke-width="0"/>
<polygon points="433.20,218.60 435.80,218.60 434.50,216.30" fill="#222" stroke="none" stroke-width="0"/>
<polygon points="456.70,209.50 459.30,209.50 458.00,207.20" fill="#222" stroke="none" stroke-width="0"/>
<polygon points="460.50,214.80 463.10,214.80 461.80,212.50" fill="#222" stroke="none" stroke-width="0"/>
<polygon points="451.40,219.30 454.00,219.30 452.70,217.00" fill="#222" stroke="none" stroke-width="0"/>
<polygon points="473.40,220.80 476.00,220.80 474.70,218.50" fill="#222" stroke="none" stroke-width="0"/>
<polygon points="409.70,226.90 412.30,226.90 411.00,224.60" fill="#222" stroke="none" stroke-width="0"/>
<polygon points="384.00,229.20 386.60,229.20 385.30,226.90" fill="#222" stroke="none" stroke-width="0"/>
<polygon points="403.70,230.70 406.30,230.70 405.00,228.40" fill="#222" stroke="none" stroke-width="0"/>
<polygon points="449.90,229.90 452.50,229.90 451.20,227.60" fill="#222" stroke="none" stroke-width="0"/>
<polygon points="440.10,198.50 442.70,198.50 441.40,196.20" fill="#222" stroke="none" stroke-width="0"/>
<polygon points="479.60,200.60 482.20,200.60 480.90,198.30" fill="#222" stroke="none" stroke-width="0"/>
<polygon points="460.70,215.00 463.30,215.00 462.00,212.70" fill="#222" stroke="none" stroke-width="0"/>
<polygon points="480.20,216.20 482.80,216.20 481.50,213.90" fill="#222" stroke="none" stroke-width="0"/>
<polygon points="473.70,220.80 476.30,220.80 475.00,218.50" fill="#222" stroke="none" stroke-width="0"/>
<polygon points="481.50,224.10 484.10,224.10 482.80,221.80" fill="#222" stroke="none" stroke-width="0"/>
<polygon points="516.10,199.30 518.70,199.30 517.40,197.00" fill="#222" stroke="none" stroke-width="0"/>
<polygon points="520.10,201.90 522.70,201.90 521.40,199.60" fill="#222" stroke="none" stroke-width="0"/>
<polygon points="520.10,220.20 522.70,220.20 521.40,217.90" fill="#222" stroke="none" stroke-width="0"/>
<polygon points="513.50,222.80 516.10,222.80 514.80,220.50" fill="#222" stroke="none" stroke-width="0"/>
<polygon points="511.60,228.70 514.20,228.70 512.90,226.40" fill="#222" stroke="none" stroke-width="0"/>
<line x1="115.5" y1="196.3" x2="115.5" y2="231.3" stroke="#444" stroke-width="1" stroke-linecap="butt"/>
<polygon points="116.65,196.60 117.70,203.60 114.10,203.60 115.15,196.60" fill="#111" stroke="none" stroke-width="0"/>
<polygon points="115.15,231.00 114.10,224.00 117.70,224.00 116.65,231.00" fill="#111" stroke="none" stroke-width="0"/>
<line x1="144.5" y1="196.3" x2="144.5" y2="226.2" stroke="#444" stroke-width="1" stroke-linecap="butt"/>
<polygon points="145.15,196.60 146.20,203.60 142.60,203.60 143.65,196.60" fill="#111" stroke="none" stroke-width="0"/>
<polygon points="143.65,226.00 142.60,219.00 146.20,219.00 145.15,226.00" fill="#111" stroke="none" stroke-width="0"/>
<text x="112.2" y="221.0" font-size="12.3" fill="#1e1e1e" textLength="17.5" lengthAdjust="spacingAndGlyphs" transform="rotate(-90 112.2 221.0)">450</text>
<text x="140.9" y="219.4" font-size="12.3" fill="#1e1e1e" textLength="18.2" lengthAdjust="spacingAndGlyphs" transform="rotate(-90 140.9 219.4)">380</text>
<polyline points="369.8,219.8 320.7,266.2 241.8,266.2" stroke="#444" stroke-width="1" fill="none"/>
<text x="0" y="0" font-size="11" fill="#1e1e1e" stroke="#1e1e1e" stroke-width="0.35" textLength="61.0" lengthAdjust="spacing" transform="translate(264.3 248.0) scale(0.97 1)"><tspan font-size="10.8" stroke="#1e1e1e" stroke-width="0.1">优质混凝土</tspan></text>
<text x="0" y="0" font-size="10.6" fill="#1e1e1e" stroke="#1e1e1e" stroke-width="0.35" textLength="126.2" lengthAdjust="spacing" transform="translate(212.9 260.7) scale(0.86 1)"><tspan>Concrete of high quality</tspan></text>
<line x1="110.3" y1="312.5" x2="156.7" y2="312.5" stroke="#444" stroke-width="1" stroke-linecap="butt"/>
<line x1="161" y1="312.5" x2="523.8" y2="312.5" stroke="#444" stroke-width="1" stroke-linecap="butt"/>
<line x1="110.3" y1="411.5" x2="156.7" y2="411.5" stroke="#444" stroke-width="1" stroke-linecap="butt"/>
<line x1="161" y1="411.5" x2="523.8" y2="411.5" stroke="#444" stroke-width="1" stroke-linecap="butt"/>
<line x1="159.5" y1="291" x2="159.5" y2="411" stroke="#444" stroke-width="1" stroke-linecap="butt"/>
<line x1="159.5" y1="414.3" x2="159.5" y2="451.5" stroke="#444" stroke-width="1" stroke-linecap="butt"/>
<line x1="523.5" y1="291" x2="523.5" y2="411" stroke="#444" stroke-width="1" stroke-linecap="butt"/>
<line x1="523.5" y1="414.5" x2="523.5" y2="451.5" stroke="#444" stroke-width="1" stroke-linecap="butt"/>
<line x1="160" y1="294.5" x2="538.8" y2="294.5" stroke="#444" stroke-width="1" stroke-linecap="butt"/>
<polygon points="160.20,293.75 167.20,292.70 167.20,296.30 160.20,295.25" fill="#111" stroke="none" stroke-width="0"/>
<polygon points="204.80,295.25 197.80,296.30 197.80,292.70 204.80,293.75" fill="#111" stroke="none" stroke-width="0"/>
<polygon points="204.80,293.75 211.80,292.70 211.80,296.30 204.80,295.25" fill="#111" stroke="none" stroke-width="0"/>
<polygon points="299.80,295.25 292.80,296.30 292.80,292.70 299.80,293.75" fill="#111" stroke="none" stroke-width="0"/>
<polygon points="299.80,293.75 306.80,292.70 306.80,296.30 299.80,295.25" fill="#111" stroke="none" stroke-width="0"/>
<polygon points="394.60,295.25 387.60,296.30 387.60,292.70 394.60,293.75" fill="#111" stroke="none" stroke-width="0"/>
<polygon points="394.60,293.75 401.60,292.70 401.60,296.30 394.60,295.25" fill="#111" stroke="none" stroke-width="0"/>
<polygon points="503.40,295.25 496.40,296.30 496.40,292.70 503.40,293.75" fill="#111" stroke="none" stroke-width="0"/>
<polygon points="523.80,293.75 530.80,292.70 530.80,296.30 523.80,295.25" fill="#111" stroke="none" stroke-width="0"/>
<text x="175.2" y="291.6" font-size="12" fill="#1e1e1e" stroke="#1e1e1e" stroke-width="0.35" textLength="18.6" lengthAdjust="spacingAndGlyphs"><tspan>580</tspan></text>
<text x="245.2" y="291.6" font-size="12" fill="#1e1e1e" stroke="#1e1e1e" stroke-width="0.35" textLength="22.8" lengthAdjust="spacingAndGlyphs"><tspan>1220</tspan></text>
<text x="341.8" y="291.6" font-size="12" fill="#1e1e1e" stroke="#1e1e1e" stroke-width="0.35" textLength="24.2" lengthAdjust="spacingAndGlyphs"><tspan>1220</tspan></text>
<text x="441.9" y="291.6" font-size="12" fill="#1e1e1e" stroke="#1e1e1e" stroke-width="0.35" textLength="23.2" lengthAdjust="spacingAndGlyphs"><tspan>1400</tspan></text>
<text x="505.8" y="290.6" font-size="12" fill="#1e1e1e" stroke="#1e1e1e" stroke-width="0.35" textLength="24.2" lengthAdjust="spacingAndGlyphs"><tspan>(260)</tspan></text>
<rect x="198.5" y="323.5" width="13.00" height="12.00" stroke="#444" stroke-width="1" fill="none"/>
<line x1="196.4" y1="329.5" x2="213.4" y2="329.5" stroke="#444" stroke-width="0.9" stroke-linecap="butt"/>
<line x1="204.5" y1="320.8" x2="204.5" y2="337.8" stroke="#444" stroke-width="0.9" stroke-linecap="butt"/>
<rect x="293.5" y="323.5" width="13.00" height="12.00" stroke="#444" stroke-width="1" fill="none"/>
<line x1="291.5" y1="329.5" x2="308.5" y2="329.5" stroke="#444" stroke-width="0.9" stroke-linecap="butt"/>
<line x1="300.5" y1="320.8" x2="300.5" y2="337.8" stroke="#444" stroke-width="0.9" stroke-linecap="butt"/>
<rect x="388.5" y="323.5" width="12.00" height="12.00" stroke="#444" stroke-width="1" fill="none"/>
<line x1="386.1" y1="329.5" x2="403.1" y2="329.5" stroke="#444" stroke-width="0.9" stroke-linecap="butt"/>
<line x1="394.5" y1="321.0" x2="394.5" y2="338.0" stroke="#444" stroke-width="0.9" stroke-linecap="butt"/>
<rect x="497.5" y="328.5" width="12.00" height="13.00" stroke="#444" stroke-width="1" fill="none"/>
<line x1="494.9" y1="334.5" x2="511.9" y2="334.5" stroke="#444" stroke-width="0.9" stroke-linecap="butt"/>
<line x1="503.5" y1="326.2" x2="503.5" y2="343.2" stroke="#444" stroke-width="0.9" stroke-linecap="butt"/>
<rect x="198.5" y="387.5" width="13.00" height="13.00" stroke="#444" stroke-width="1" fill="none"/>
<line x1="196.4" y1="393.5" x2="213.4" y2="393.5" stroke="#444" stroke-width="0.9" stroke-linecap="butt"/>
<line x1="204.5" y1="385.2" x2="204.5" y2="402.2" stroke="#444" stroke-width="0.9" stroke-linecap="butt"/>
<rect x="293.5" y="387.5" width="13.00" height="13.00" stroke="#444" stroke-width="1" fill="none"/>
<line x1="291.5" y1="393.5" x2="308.5" y2="393.5" stroke="#444" stroke-width="0.9" stroke-linecap="butt"/>
<line x1="300.5" y1="385.2" x2="300.5" y2="402.2" stroke="#444" stroke-width="0.9" stroke-linecap="butt"/>
<rect x="388.5" y="387.5" width="13.00" height="13.00" stroke="#444" stroke-width="1" fill="none"/>
<line x1="386.5" y1="393.5" x2="403.5" y2="393.5" stroke="#444" stroke-width="0.9" stroke-linecap="butt"/>
<line x1="395.5" y1="385.2" x2="395.5" y2="402.2" stroke="#444" stroke-width="0.9" stroke-linecap="butt"/>
<rect x="497.5" y="382.5" width="12.00" height="12.00" stroke="#444" stroke-width="1" fill="none"/>
<line x1="494.9" y1="388.5" x2="511.9" y2="388.5" stroke="#444" stroke-width="0.9" stroke-linecap="butt"/>
<line x1="503.5" y1="379.7" x2="503.5" y2="396.7" stroke="#444" stroke-width="0.9" stroke-linecap="butt"/>
<line x1="204.5" y1="291" x2="204.5" y2="329.3" stroke="#444" stroke-width="1" stroke-linecap="butt"/>
<line x1="300.5" y1="291" x2="300.5" y2="329.3" stroke="#444" stroke-width="1" stroke-linecap="butt"/>
<line x1="394.5" y1="291" x2="394.5" y2="329.5" stroke="#444" stroke-width="1" stroke-linecap="butt"/>
<line x1="503.5" y1="291" x2="503.5" y2="334.7" stroke="#444" stroke-width="1" stroke-linecap="butt"/>
<line x1="137.6" y1="329.5" x2="213" y2="329.5" stroke="#444" stroke-width="1" stroke-linecap="butt"/>
<line x1="137.6" y1="393.5" x2="213" y2="393.5" stroke="#444" stroke-width="1" stroke-linecap="butt"/>
<line x1="140.5" y1="329.5" x2="140.5" y2="393.5" stroke="#444" stroke-width="1" stroke-linecap="butt"/>
<polygon points="140.95,329.60 142.00,336.60 138.40,336.60 139.45,329.60" fill="#111" stroke="none" stroke-width="0"/>
<polygon points="139.45,393.40 138.40,386.40 142.00,386.40 140.95,393.40" fill="#111" stroke="none" stroke-width="0"/>
<text x="138.5" y="367" font-size="12.3" fill="#1e1e1e" textLength="17.4" lengthAdjust="spacingAndGlyphs" transform="rotate(-90 138.5 367)">830</text>
<line x1="112.5" y1="312" x2="112.5" y2="411" stroke="#444" stroke-width="1" stroke-linecap="butt"/>
<polygon points="113.15,312.30 114.20,319.30 110.60,319.30 111.65,312.30" fill="#111" stroke="none" stroke-width="0"/>
<polygon points="111.65,410.70 110.60,403.70 114.20,403.70 113.15,410.70" fill="#111" stroke="none" stroke-width="0"/>
<text x="108.9" y="368.7" font-size="12.3" fill="#1e1e1e" textLength="22.7" lengthAdjust="spacingAndGlyphs" transform="rotate(-90 108.9 368.7)">1270</text>
<line x1="198.5" y1="340" x2="198.5" y2="359" stroke="#444" stroke-width="0.9" stroke-linecap="butt"/>
<line x1="211.5" y1="340" x2="211.5" y2="359" stroke="#444" stroke-width="0.9" stroke-linecap="butt"/>
<line x1="166.3" y1="356.5" x2="226.1" y2="356.5" stroke="#444" stroke-width="1" stroke-linecap="butt"/>
<polygon points="198.30,357.05 191.30,358.10 191.30,354.50 198.30,355.55" fill="#111" stroke="none" stroke-width="0"/>
<polygon points="211.50,355.55 218.50,354.50 218.50,358.10 211.50,357.05" fill="#111" stroke="none" stroke-width="0"/>
<text x="167.8" y="355" font-size="11" fill="#1e1e1e" stroke="#1e1e1e" stroke-width="0.35" textLength="17.0" lengthAdjust="spacingAndGlyphs"><tspan>160</tspan></text>
<line x1="214.8" y1="323.5" x2="247.3" y2="323.5" stroke="#444" stroke-width="0.9" stroke-linecap="butt"/>
<line x1="214.8" y1="335.5" x2="247.3" y2="335.5" stroke="#444" stroke-width="0.9" stroke-linecap="butt"/>
<line x1="244.5" y1="308" x2="244.5" y2="368.2" stroke="#444" stroke-width="1" stroke-linecap="butt"/>
<polygon points="243.75,323.00 242.70,316.00 246.30,316.00 245.25,323.00" fill="#111" stroke="none" stroke-width="0"/>
<polygon points="245.25,335.40 246.30,342.40 242.70,342.40 243.75,335.40" fill="#111" stroke="none" stroke-width="0"/>
<text x="242.1" y="362.8" font-size="12.3" fill="#1e1e1e" textLength="17.5" lengthAdjust="spacingAndGlyphs" transform="rotate(-90 242.1 362.8)">160</text>
<line x1="495.2" y1="334.5" x2="556" y2="334.5" stroke="#444" stroke-width="1" stroke-linecap="butt"/>
<line x1="495.2" y1="388.5" x2="556" y2="388.5" stroke="#444" stroke-width="1" stroke-linecap="butt"/>
<line x1="552.5" y1="334.7" x2="552.5" y2="388.2" stroke="#444" stroke-width="1" stroke-linecap="butt"/>
<polygon points="553.55,334.90 554.60,341.90 551.00,341.90 552.05,334.90" fill="#111" stroke="none" stroke-width="0"/>
<polygon points="552.05,388.00 551.00,381.00 554.60,381.00 553.55,388.00" fill="#111" stroke="none" stroke-width="0"/>
<text x="550.7" y="368.9" font-size="12.3" fill="#1e1e1e" textLength="17.4" lengthAdjust="spacingAndGlyphs" transform="rotate(-90 550.7 368.9)">690</text>
<line x1="155" y1="361.5" x2="529" y2="361.5" stroke="#444" stroke-width="1" stroke-dasharray="14 3.9 1.5 3.6" stroke-dashoffset="4.5"/>
<line x1="160" y1="448.5" x2="523.8" y2="448.5" stroke="#444" stroke-width="1" stroke-linecap="butt"/>
<polygon points="160.20,447.75 167.20,446.70 167.20,450.30 160.20,449.25" fill="#111" stroke="none" stroke-width="0"/>
<polygon points="523.60,449.25 516.60,450.30 516.60,446.70 523.60,447.75" fill="#111" stroke="none" stroke-width="0"/>
<text x="318.9" y="445" font-size="12" fill="#1e1e1e" stroke="#1e1e1e" stroke-width="0.35" textLength="24.3" lengthAdjust="spacingAndGlyphs"><tspan>4680</tspan></text>
</g>
</svg></body></html>
